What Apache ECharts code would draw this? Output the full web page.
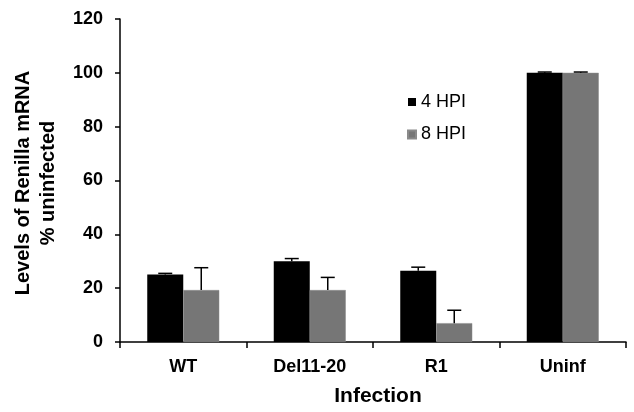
<!DOCTYPE html>
<html>
<head>
<meta charset="utf-8">
<script src="https://cdn.jsdelivr.net/npm/echarts@6/dist/echarts.min.js"></script>
<style>
  html, body { margin: 0; padding: 0; background: #fff; }
  #chart { width: 634px; height: 412px; }
</style>
</head>
<body>
<div id="chart"></div>
<script>
// data
const categories = ['WT', 'Del11-20', 'R1', 'Uninf']
const hpi4 = [25.1, 30.0, 26.5, 100]
const hpi8 = [19.3, 19.3, 7.0, 100]
const err4 = [0.4, 1.0, 1.3, 0.3]
const err8 = [8.3, 4.7, 4.8, 0.3]
const yTicks = [0, 20, 40, 60, 80, 100, 120]

const FONT = 'Liberation Sans, Arial, sans-serif'
const BAR_W = 36

// error bars drawn as a custom series, offset to sit on each bar
function errorSeries (vals, errs, offset) {
  return {
    type: 'custom',
    silent: true,
    z: 5,
    data: vals.map((v, i) => [i, v, v + errs[i]]),
    renderItem: function (params, api) {
      let base = api.coord([api.value(0), api.value(1)])
      let top = api.coord([api.value(0), api.value(2)])
      let x = base[0] + offset
      let cap = 7
      return {
        type: 'group',
        children: [{
          type: 'line',
          shape: { x1: x, y1: base[1], x2: x, y2: top[1] },
          style: { stroke: '#000', lineWidth: 1.5 }
        }, {
          type: 'line',
          shape: { x1: x - cap, y1: top[1], x2: x + cap, y2: top[1] },
          style: { stroke: '#000', lineWidth: 1.5 }
        }]
      }
    }
  }
}

let chart = echarts.init(document.getElementById('chart'))
chart.setOption({
  animation: false,
  grid: { left: 120, right: 8, top: 19, bottom: 66.5 },
  legend: {
    orient: 'vertical',
    left: 407,
    top: 93,
    padding: 0,
    itemWidth: 8,
    itemHeight: 8,
    itemGap: 14.5,
    icon: 'rect',
    data: ['4 HPI', '8 HPI'],
    textStyle: { fontFamily: FONT, fontSize: 18, color: '#000' }
  },
  graphic: [{
    type: 'text',
    x: 35.5,
    y: 183,
    rotation: Math.PI / 2,
    style: {
      text: 'Levels of Renilla mRNA\n% uninfected',
      fontFamily: FONT,
      fontWeight: 'bold',
      fontSize: 20,
      lineHeight: 25,
      align: 'center',
      verticalAlign: 'middle',
      fill: '#000'
    }
  }],
  xAxis: {
    type: 'category',
    data: categories,
    name: 'Infection',
    nameLocation: 'middle',
    nameGap: 44,
    nameTextStyle: { fontFamily: FONT, fontWeight: 'bold', fontSize: 21, color: '#000', padding: [0, 0, 0, 10] },
    axisLine: { lineStyle: { color: '#000', width: 1.5 } },
    axisTick: { show: true, length: 6, lineStyle: { color: '#000', width: 1.5 } },
    axisLabel: { fontFamily: FONT, fontWeight: 'bold', fontSize: 18, color: '#000', margin: 16 }
  },
  yAxis: {
    type: 'value',
    min: yTicks[0],
    max: yTicks[yTicks.length - 1],
    interval: 20,
    splitLine: { show: false },
    axisLine: { show: true, lineStyle: { color: '#000', width: 1.5 } },
    axisTick: { show: true, length: 5, lineStyle: { color: '#000', width: 1.5 } },
    axisLabel: { fontFamily: FONT, fontWeight: 'bold', fontSize: 18, color: '#000', margin: 17 }
  },
  series: [{
    name: '4 HPI',
    type: 'bar',
    data: hpi4,
    barWidth: BAR_W,
    barGap: '0%',
    itemStyle: { color: '#000' }
  }, {
    name: '8 HPI',
    type: 'bar',
    data: hpi8,
    barWidth: BAR_W,
    itemStyle: { color: '#767676', borderColor: '#8a8a8a', borderWidth: 0.5 }
  },
  errorSeries(hpi4, err4, -BAR_W / 2),
  errorSeries(hpi8, err8, BAR_W / 2)
  ]
})
</script>
</body>
</html>
